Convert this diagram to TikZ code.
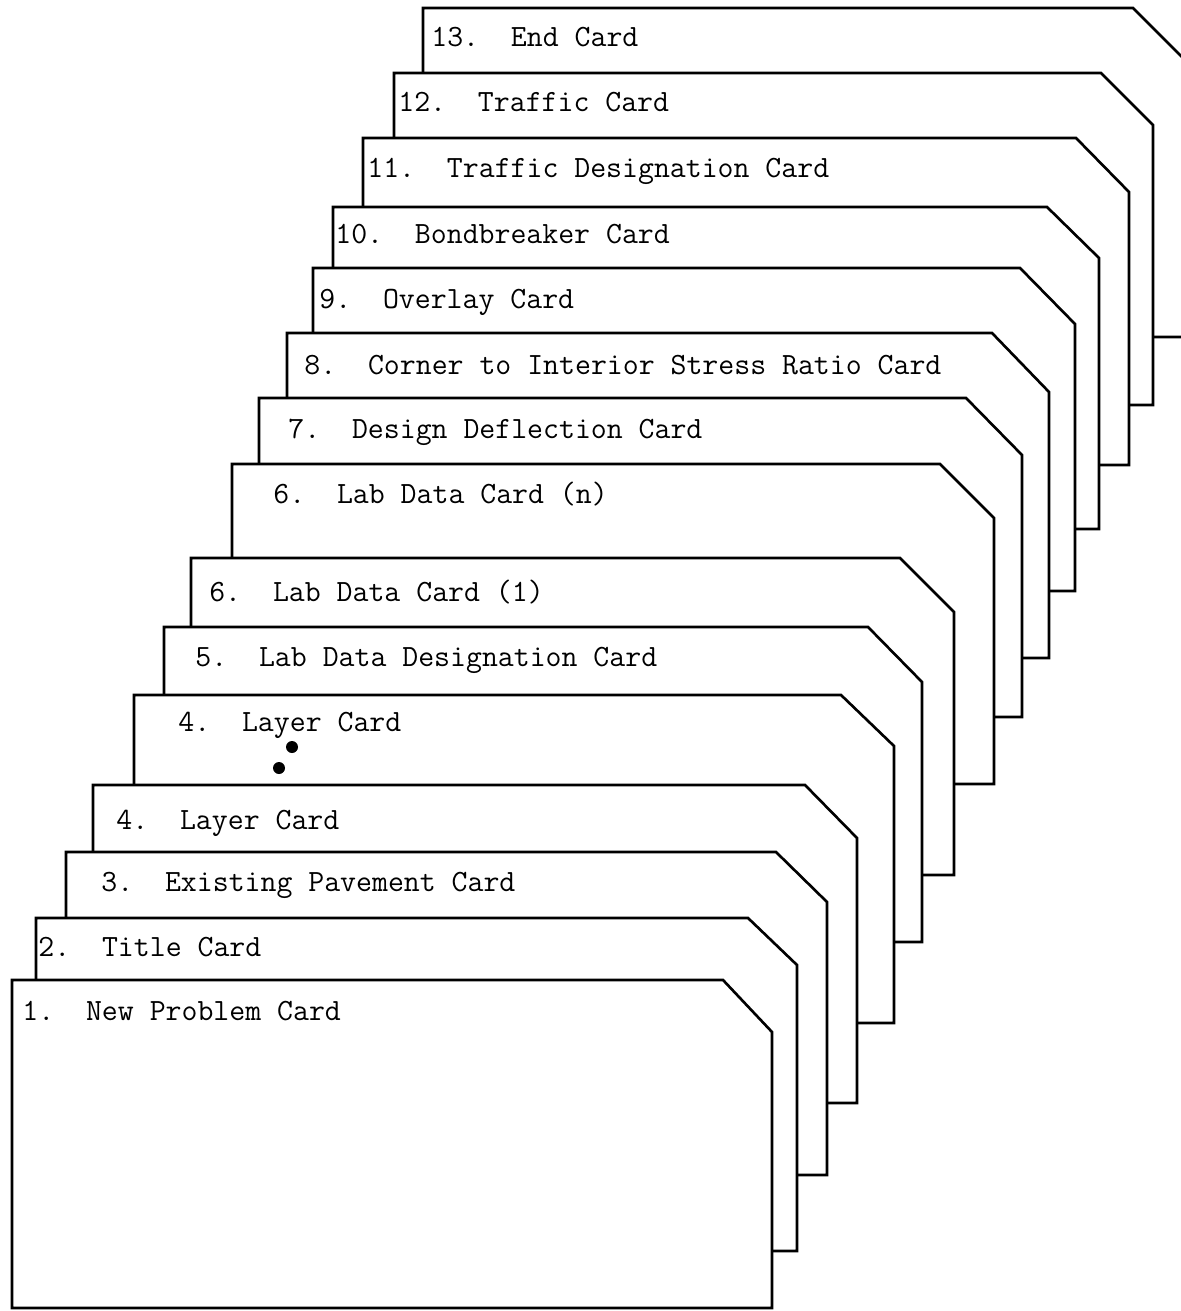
\documentclass[tikz,border=0pt]{standalone}
\usepackage{amsmath}
\usetikzlibrary{positioning,calc}

\begin{document}
\begin{tikzpicture}[x=0.02cm,y=-0.02cm,
    card/.style={draw,fill=white,line width=1.5pt,line join=miter},
    lbl/.style={anchor=base west,inner sep=0pt,font=\fontsize{17.6}{20}\selectfont\ttfamily},
    dot/.style={circle,fill,inner sep=0pt,minimum size=0.24cm}]
            \useasboundingbox (0,0) rectangle (1180,1311);
            % back of the deck first, front card last
            \draw[card] (423,337) -- (423,8) -- (1133,8) -- (1185,60) -- (1185,337) -- cycle;
            \node[lbl] (c13) at (431,47) {13.~~End Card};
            \draw[card] (394,405) -- (394,73) -- (1101,73) -- (1153,125) -- (1153,405) -- cycle;
            \node[lbl] (c12) at (398,112) {12.~~Traffic Card};
            \draw[card] (363,465) -- (363,138) -- (1076,138) -- (1129,192) -- (1129,465) -- cycle;
            \node[lbl] (c11) at (367,178) {11.~~Traffic Designation Card};
            \draw[card] (333,529) -- (333,207) -- (1047,207) -- (1099,258) -- (1099,529) -- cycle;
            \node[lbl] (c10) at (335,243) {10.~~Bondbreaker Card};
            \draw[card] (313,591) -- (313,268) -- (1020,268) -- (1075,324) -- (1075,591) -- cycle;
            \node[lbl] (c9) at (319,308) {9.~~Overlay Card};
            \draw[card] (287,658) -- (287,333) -- (992,333) -- (1049,392) -- (1049,658) -- cycle;
            \node[lbl] (c8) at (304,374) {8.~~Corner to Interior Stress Ratio Card};
            \draw[card] (259,717) -- (259,398) -- (966,398) -- (1022,455) -- (1022,717) -- cycle;
            \node[lbl] (c7) at (288,438) {7.~~Design Deflection Card};
            \draw[card] (232,784) -- (232,464) -- (940,464) -- (994,518) -- (994,784) -- cycle;
            \node[lbl] (c6n) at (273,503) {6.~~Lab Data Card (n)};
            \draw[card] (191,875) -- (191,558) -- (900,558) -- (954,612) -- (954,875) -- cycle;
            \node[lbl] (c61) at (209,601) {6.~~Lab Data Card (1)};
            \draw[card] (164,942) -- (164,627) -- (868,627) -- (922,682) -- (922,942) -- cycle;
            \node[lbl] (c5) at (195,666) {5.~~Lab Data Designation Card};
            \draw[card] (134,1023) -- (134,695) -- (841,695) -- (894,746) -- (894,1023) -- cycle;
            \node[lbl] (c4b) at (178,731) {4.~~Layer Card};
            \node[dot] (d1) at (292,747) {};
            \node[dot] (d2) at (279,768) {};
            \draw[card] (93,1103) -- (93,785) -- (805,785) -- (857,838) -- (857,1103) -- cycle;
            \node[lbl] (c4a) at (116,829) {4.~~Layer Card};
            \draw[card] (66,1175) -- (66,852) -- (776,852) -- (827,902) -- (827,1175) -- cycle;
            \node[lbl] (c3) at (101,891) {3.~~Existing Pavement Card};
            \draw[card] (36,1251) -- (36,918) -- (748,918) -- (797,965) -- (797,1251) -- cycle;
            \node[lbl] (c2) at (38,956) {2.~~Title Card};
            \draw[card] (12,1308) -- (12,980) -- (723,980) -- (772,1032) -- (772,1308) -- cycle;
            \node[lbl] (c1) at (22,1020) {1.~~New Problem Card};
        \end{tikzpicture}
\end{document}
